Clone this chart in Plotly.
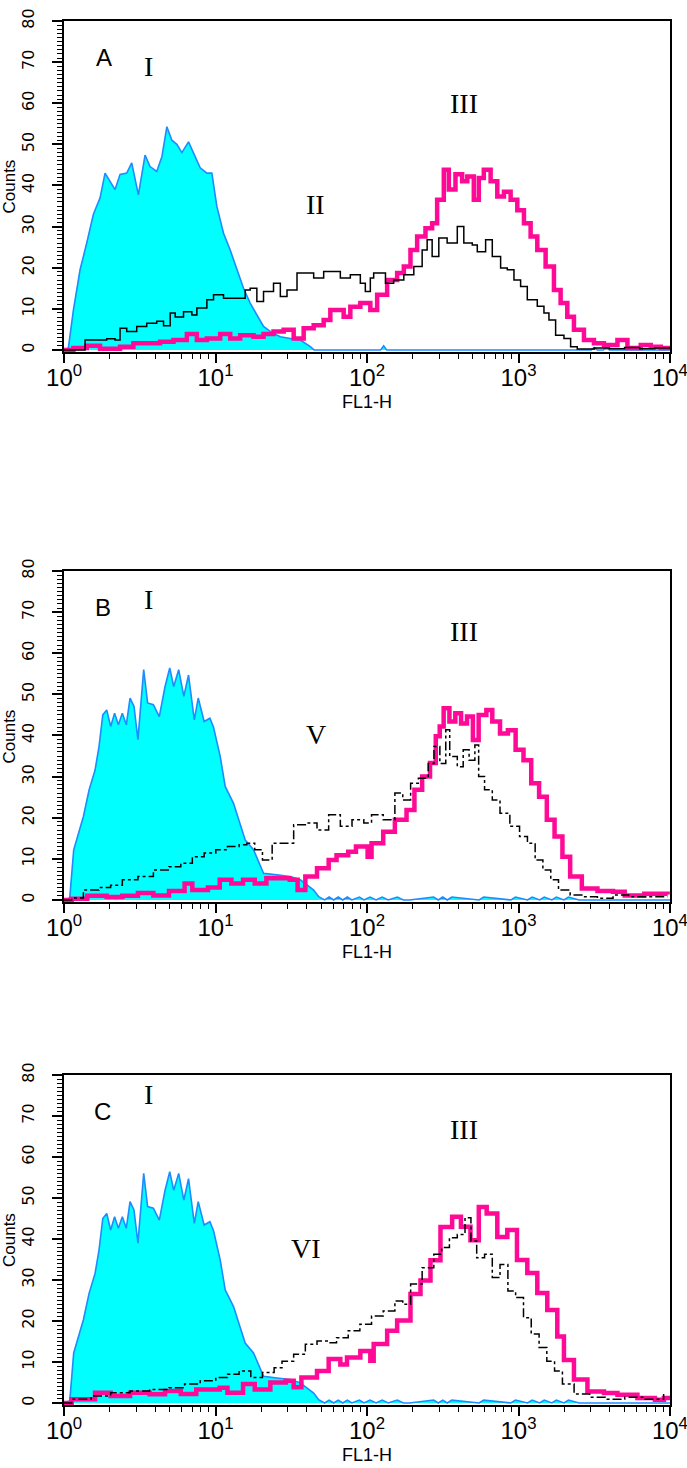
import numpy as np
import plotly.graph_objects as go

W, H = 687, 1468

# ---------------- data (x in log10 FL1-H units, y = counts) ----------------
# Panel A
a_cyan_log = [0.000, 0.029, 0.062, 0.106, 0.150, 0.194, 0.238, 0.271, 0.304, 0.337,
              0.370, 0.414, 0.447, 0.491, 0.535, 0.568, 0.612, 0.646, 0.679, 0.712,
              0.745, 0.778, 0.822, 0.866, 0.899, 0.943, 0.976, 1.009, 1.053, 1.097,
              1.141, 1.185, 1.229, 1.273, 1.317, 1.372, 1.428, 1.494, 1.560, 1.626,
              1.650, 2.090, 2.110, 2.130, 3.480, 3.500, 3.520, 3.560, 3.580, 3.600, 4.000]
a_cyan_cnt = [0, 0.5, 9.7, 19.5, 26, 33, 37, 43, 41, 39,
              42.7, 43, 45.5, 37.7, 47.4, 44.6, 43.4, 47, 54.3, 51,
              50, 48, 50.6, 47, 44.3, 43, 43, 34.9, 28.4, 24.3,
              19.5, 15, 11.4, 8.5, 5.7, 4.2, 3.2, 2.8, 2.4, 0.8,
              0, 0, 1.0, 0, 0, 0.6, 0, 0, 0.6, 0, 0]

a_ii_log = [0.000, 0.040, 0.139, 0.282, 0.337, 0.370, 0.414, 0.480, 0.546, 0.612,
            0.657, 0.701, 0.734, 0.789, 0.844, 0.877, 0.943, 0.987, 1.053, 1.141,
            1.196, 1.229, 1.273, 1.317, 1.383, 1.428, 1.472, 1.538, 1.604, 1.648,
            1.714, 1.780, 1.824, 1.890, 1.956, 1.989, 2.022, 2.044, 2.089, 2.122,
            2.176, 2.243, 2.309, 2.364, 2.397, 2.430, 2.474, 2.529, 2.596, 2.639,
            2.695, 2.728, 2.783, 2.827, 2.882, 2.926, 2.970, 3.014, 3.058, 3.124,
            3.168, 3.201, 3.245, 3.300, 3.344, 3.388, 3.500, 3.600, 3.700, 3.800, 3.900, 4.000]
a_ii_cnt = [0, 0, 2.4, 2.7, 2.4, 5.3, 4.5, 5.7, 6.5, 7,
            5.9, 9, 8, 9.3, 8.5, 10.2, 12.2, 13.4, 12.6, 12.6,
            14.6, 15, 11.8, 14.2, 16.2, 13, 14.6, 18.7, 18.7, 17.5,
            19.1, 19.1, 17.5, 18.3, 16.2, 14.2, 17.5, 18.7, 18.7, 16.2,
            17, 18.3, 20.3, 24.3, 26.8, 22.7, 27.2, 26, 30, 26,
            25.5, 23.9, 26.8, 22.7, 19.9, 19.5, 17, 15.4, 12.2, 10.6,
            9, 7.3, 3.6, 2.8, 0.8, 0.2, 0.5, 0.3, 0.6, 0.3, 0.5, 0.3]

a_iii_log = [0.000, 0.062, 0.150, 0.238, 0.370, 0.458, 0.546, 0.634, 0.723, 0.811,
             0.877, 0.943, 1.031, 1.097, 1.163, 1.251, 1.317, 1.383, 1.450, 1.516,
             1.582, 1.648, 1.714, 1.758, 1.802, 1.846, 1.890, 1.956, 2.022, 2.067,
             2.133, 2.199, 2.243, 2.287, 2.331, 2.386, 2.430, 2.463, 2.507, 2.540,
             2.584, 2.628, 2.662, 2.705, 2.738, 2.771, 2.816, 2.860, 2.904, 2.948,
             2.992, 3.036, 3.080, 3.124, 3.179, 3.234, 3.278, 3.322, 3.366, 3.432,
             3.498, 3.564, 3.653, 3.719, 3.807, 3.873, 3.939, 4.000]
a_iii_cnt = [0, 0.5, 1, 0.3, 0.8, 1.6, 1.6, 2, 2.4, 3.9,
             2.4, 2.8, 3.9, 2.8, 3.6, 3.2, 3.9, 4.5, 4.9, 2.8,
             5.3, 6, 7.3, 9.7, 9.7, 8.1, 10.5, 11.4, 9.7, 13.4,
             17, 18.7, 20.3, 24.3, 27.6, 29.6, 30.8, 36.5, 43.8, 39,
             42.7, 41, 42.2, 36.5, 41.8, 43.8, 41, 37.3, 38.5, 36.5,
             34, 30.8, 27.6, 24.3, 20.3, 14.6, 11.4, 8.1, 4.9, 2.4,
             1.6, 1.2, 2.4, 0.5, 1.2, 0.8, 0.5, 0.5]

# Panels B and C share the control (I) histogram
bc_cyan_log = [0.000, 0.038, 0.064, 0.128, 0.166, 0.205, 0.231, 0.256, 0.282, 0.308,
               0.334, 0.359, 0.385, 0.411, 0.436, 0.462, 0.488, 0.526, 0.552, 0.590,
               0.629, 0.667, 0.698, 0.724, 0.757, 0.791, 0.822, 0.860, 0.886, 0.925,
               0.963, 0.987, 1.031, 1.064, 1.119, 1.163, 1.196, 1.251, 1.317, 1.406,
               1.494, 1.560, 1.648, 1.681, 1.720, 1.750, 1.780, 1.810, 1.840, 1.870,
               1.900, 1.950, 1.980, 2.020, 2.060, 2.100, 2.140, 2.200, 2.240, 2.280,
               2.440, 2.470, 2.500, 2.530, 2.560, 2.740, 2.770, 2.950, 2.980, 3.060,
               3.090, 3.140, 3.170, 3.220, 3.250, 3.300, 3.330, 3.400, 4.000]
bc_cyan_cnt = [0, 0.5, 12.2, 20.3, 26.8, 31.6, 37.3, 45, 46.2, 42.2,
               45.4, 42.6, 45.4, 42.6, 49.1, 47.1, 39, 56, 47.9, 47.5,
               44.6, 51.9, 56.4, 51.9, 56, 49.5, 54.7, 43.8, 49.1, 43.4,
               44.2, 42, 34.9, 27.6, 23.5, 18.7, 14.6, 12.2, 6.5, 6.1,
               5.7, 4.9, 2.4, 0.8, 0, 0.7, 0, 0.7, 0, 0.7,
               0, 0.7, 0, 0.7, 0, 0.7, 0, 0.7, 0, 0,
               0.7, 0, 0.7, 0, 0.7, 0, 0.7, 0, 0.7, 0,
               0.7, 0, 0.7, 0, 0.7, 0, 0.7, 0, 0]

b_v_log = [0.000, 0.051, 0.128, 0.231, 0.308, 0.385, 0.488, 0.590, 0.693, 0.771,
           0.847, 0.925, 1.002, 1.079, 1.156, 1.207, 1.259, 1.310, 1.374, 1.439,
           1.516, 1.593, 1.670, 1.747, 1.824, 1.901, 1.979, 2.030, 2.107, 2.184,
           2.236, 2.288, 2.339, 2.404, 2.442, 2.481, 2.520, 2.546, 2.596, 2.635,
           2.674, 2.712, 2.737, 2.776, 2.827, 2.878, 2.943, 3.007, 3.059, 3.110,
           3.161, 3.213, 3.264, 3.341, 3.418, 3.521, 3.624, 3.727, 3.830, 3.984]
b_v_cnt = [0, 0.5, 2.4, 3, 3.6, 4.9, 5.7, 7.3, 8.1, 8.9,
           10.5, 11.4, 12.2, 13, 13.4, 13.8, 12.2, 9.7, 13.8, 13.8,
           18.3, 18.7, 17, 20.7, 17.9, 19.5, 18.7, 20.7, 19.5, 26,
           24.3, 28.4, 29.6, 33.2, 37.3, 33.2, 41.4, 34.9, 32.4, 36.5,
           34, 37.7, 30, 26.8, 24.3, 21.1, 17.9, 15.4, 13.8, 9.7,
           7.3, 4.9, 2.4, 1.2, 0.8, 0.4, 1.2, 0.8, 0.8, 0.8]

b_iii_log = [0.000, 0.051, 0.154, 0.282, 0.385, 0.488, 0.590, 0.693, 0.796, 0.847,
             0.950, 1.028, 1.105, 1.182, 1.259, 1.336, 1.413, 1.490, 1.542, 1.593,
             1.670, 1.747, 1.799, 1.876, 1.927, 2.004, 2.030, 2.107, 2.184, 2.261,
             2.313, 2.364, 2.416, 2.454, 2.480, 2.506, 2.544, 2.583, 2.621, 2.660,
             2.699, 2.737, 2.788, 2.827, 2.878, 2.930, 2.981, 3.033, 3.084, 3.136,
             3.187, 3.238, 3.290, 3.341, 3.418, 3.521, 3.624, 3.701, 3.830, 3.984]
b_iii_cnt = [0, 0.3, 1, 0.7, 1, 1.7, 1.1, 2.2, 4, 2.4,
             3, 4.9, 4, 4.9, 4, 5.3, 5.3, 4.9, 2.4, 5.7,
             7.7, 9.7, 10.9, 11.7, 13, 10.5, 13.8, 16.6, 19.5, 21.9,
             26.8, 30, 33.3, 39.8, 42.2, 46.6, 43.4, 45.4, 42.9, 44.6,
             38.9, 45, 46.2, 43.4, 40.5, 41.3, 36.5, 34, 28.4, 25.1,
             19.5, 15.4, 10.5, 5.7, 2.8, 2.2, 2, 1.1, 1.5, 1.3]

c_vi_log = [0.000, 0.051, 0.179, 0.308, 0.436, 0.565, 0.693, 0.796, 0.899, 1.002,
            1.079, 1.156, 1.233, 1.310, 1.387, 1.439, 1.516, 1.593, 1.670, 1.747,
            1.799, 1.876, 1.953, 2.030, 2.107, 2.184, 2.236, 2.288, 2.364, 2.441,
            2.493, 2.544, 2.596, 2.647, 2.686, 2.724, 2.776, 2.827, 2.878, 2.930,
            2.981, 3.033, 3.084, 3.136, 3.187, 3.238, 3.290, 3.367, 3.470, 3.573,
            3.701, 3.830, 3.958]
c_vi_cnt = [0, 0.9, 1.7, 2.5, 2.9, 3.3, 3.7, 4.6, 5.4, 6.2,
            7, 7.8, 6.2, 7.4, 8.6, 10.2, 11.9, 14.3, 15.1, 14.7,
            15.9, 17.6, 19.2, 21.2, 22.4, 24.9, 24.1, 29, 33, 36.3,
            37.9, 40.3, 41.1, 45.2, 39.5, 35.4, 36.3, 30.6, 33.8, 27.3,
            25.7, 20.8, 16.8, 13.5, 10.2, 7.8, 4.6, 2.2, 1.4, 0.9,
            1.4, 0.9, 2.2]

c_iii_log = [0.000, 0.051, 0.205, 0.308, 0.436, 0.565, 0.667, 0.771, 0.873, 1.028,
             1.079, 1.182, 1.259, 1.362, 1.464, 1.516, 1.567, 1.670, 1.747, 1.824,
             1.868, 1.956, 2.022, 2.044, 2.133, 2.199, 2.287, 2.353, 2.419, 2.485,
             2.562, 2.620, 2.683, 2.738, 2.790, 2.860, 2.926, 2.990, 3.058, 3.124,
             3.190, 3.256, 3.300, 3.366, 3.455, 3.564, 3.653, 3.785, 3.900, 3.960, 4.000]
c_iii_cnt = [0, 0.9, 2.5, 1.7, 2.5, 2.1, 2.9, 2.2, 3.3, 3.7,
             2.5, 4.6, 3.3, 5, 5.4, 3.8, 6.2, 7.8, 10.7, 9.4,
             11.1, 12.7, 10.3, 14.4, 17.6, 20.1, 26.6, 29.9, 34.8, 42.9,
             45.4, 43, 39.7, 47.8, 46.2, 40.5, 42.2, 34.9, 31.7, 26.8,
             22.7, 16.2, 10.5, 5.7, 2.8, 2.4, 2, 1.2, 0.8, 1.2, 1.0]

x_tick_vals = [1, 10, 100, 1000, 10000]
x_tick_text = ["10<sup>0</sup>", "10<sup>1</sup>", "10<sup>2</sup>", "10<sup>3</sup>", "10<sup>4</sup>"]
y_tick_vals = [0, 10, 20, 30, 40, 50, 60, 70, 80]

panel_letters = ["A", "B", "C"]
black_labels = ["II", "V", "VI"]

# ---------------- styling ----------------
CYAN_FILL = "#00FFFF"
CYAN_LINE = "#1C8CFF"
PINK = "#FF0A96"

# pixel geometry of the three plot boxes (top, bottom) in page pixels
boxes = [(21, 352), (571, 902), (1075, 1405)]
x_left, x_right = 64, 670

panels = [
    dict(cyan=(a_cyan_log, a_cyan_cnt), black=(a_ii_log, a_ii_cnt), pink=(a_iii_log, a_iii_cnt), dash="solid"),
    dict(cyan=(bc_cyan_log, bc_cyan_cnt), black=(b_v_log, b_v_cnt), pink=(b_iii_log, b_iii_cnt), dash="dashdot"),
    dict(cyan=(bc_cyan_log, bc_cyan_cnt), black=(c_vi_log, c_vi_cnt), pink=(c_iii_log, c_iii_cnt), dash="dashdot"),
]

for p in panels:
    for k in ("cyan", "black", "pink"):
        assert len(p[k][0]) == len(p[k][1]), (k, len(p[k][0]), len(p[k][1]))

fig = go.Figure()

layout = dict(
    width=W, height=H,
    margin=dict(l=0, r=0, t=0, b=0, pad=0, autoexpand=False),
    paper_bgcolor="white", plot_bgcolor="white",
    showlegend=False,
)

annotations = []
n_p = len(panels)
for i, p in enumerate(panels):
    n = "" if i == 0 else str(i + 1)
    xa, ya = "x" + n, "y" + n
    # overlay axis carrying the 10^n labels
    m = str(i + 1 + n_p)
    xl = "x" + m
    top, bot = boxes[i]

    lg, ct = p["cyan"]
    fig.add_trace(go.Scatter(x=np.power(10.0, lg), y=ct, mode="lines",
                             line=dict(color=CYAN_LINE, width=1.6), fill="tozeroy",
                             fillcolor=CYAN_FILL, xaxis=xa, yaxis=ya, hoverinfo="skip"))
    lg, ct = p["pink"]
    fig.add_trace(go.Scatter(x=np.power(10.0, lg), y=ct, mode="lines", line_shape="hv",
                             line=dict(color=PINK, width=4.5), xaxis=xa, yaxis=ya, hoverinfo="skip"))
    lg, ct = p["black"]
    fig.add_trace(go.Scatter(x=np.power(10.0, lg), y=ct, mode="lines", line_shape="hv",
                             line=dict(color="black", width=1.5, dash=p["dash"]),
                             xaxis=xa, yaxis=ya, hoverinfo="skip"))

    layout["xaxis" + n] = dict(
        type="log", range=[0, 4], domain=[x_left / W, x_right / W], anchor=ya,
        showline=True, linecolor="black", linewidth=2, mirror=True,
        ticks="outside", ticklen=9, tickwidth=1.5, tickcolor="black",
        tickmode="linear", tick0=0, dtick=1, showticklabels=False,
        showgrid=False, zeroline=False, fixedrange=True, automargin=False,
        minor=dict(ticks="outside", ticklen=5, tickwidth=1.2, tickcolor="black",
                   dtick="D1", showgrid=False),
    )
    layout["xaxis" + m] = dict(
        type="log", range=[-0.0004, 4.0004], domain=[x_left / W, x_right / W], anchor=ya,
        overlaying=xa, side="bottom", showline=False, ticks="", ticklen=9,
        tickmode="array", tickvals=x_tick_vals, ticktext=x_tick_text,
        tickfont=dict(family="Liberation Sans, Arial", size=24, color="black"),
        ticklabelstandoff=9, ticklabeloverflow="allow",
        showgrid=False, zeroline=False, fixedrange=True, automargin=False,
    )
    layout["yaxis" + n] = dict(
        range=[-0.5, 80], domain=[1 - bot / H, 1 - top / H], anchor=xa,
        showline=True, linecolor="black", linewidth=2, mirror=True,
        ticks="outside", ticklen=10, tickwidth=1.5, tickcolor="black",
        tickmode="linear", tick0=0, dtick=10, tickangle=-90,
        tickfont=dict(family="DejaVu Sans", size=16, color="black"),
        ticklabelstandoff=12,
        showgrid=False, zeroline=False, fixedrange=True, automargin=False,
        minor=dict(ticks="outside", ticklen=5, tickwidth=1, tickcolor="black",
                   tickmode="linear", dtick=1, tick0=0, showgrid=False),
    )
    # invisible trace so the label axis is drawn
    fig.add_trace(go.Scatter(x=[1, 10000], y=[None, None], mode="lines",
                             xaxis=xl, yaxis=ya, hoverinfo="skip", showlegend=False))

    def pa(px, py, text, size, family, **kw):
        annotations.append(dict(x=px / W, y=1 - py / H, xref="paper", yref="paper",
                                text=text, showarrow=False,
                                font=dict(size=size, family=family, color="black"),
                                xanchor="center", yanchor="middle", **kw))

    mid = (top + bot) / 2
    pa(9, mid, "Counts", 17, "Liberation Sans, Arial", textangle=-90)
    pa(367, bot + 50, "FL1-H", 18, "Liberation Sans, Arial")

annot_pos = [
    dict(letter=(104, 57), I=(148, 67), III=(464, 103), blk=(315, 205)),
    dict(letter=(103, 607), I=(148, 599), III=(464, 632), blk=(316, 734)),
    dict(letter=(102, 1111), I=(148, 1094), III=(464, 1129), blk=(306, 1248)),
]
for i, a in enumerate(annot_pos):
    annotations.append(dict(x=a["letter"][0] / W, y=1 - a["letter"][1] / H, xref="paper", yref="paper",
                            text=panel_letters[i], showarrow=False, xanchor="center", yanchor="middle",
                            font=dict(size=24, family="Liberation Sans, Arial", color="black")))
    for key, txt in (("I", "I"), ("III", "III"), ("blk", black_labels[i])):
        annotations.append(dict(x=a[key][0] / W, y=1 - a[key][1] / H, xref="paper", yref="paper",
                                text=txt, showarrow=False, xanchor="center", yanchor="middle",
                                font=dict(size=28, family="Liberation Serif, Times New Roman", color="black")))

layout["annotations"] = annotations
fig.update_layout(**layout)
fig.write_html("out.html")
